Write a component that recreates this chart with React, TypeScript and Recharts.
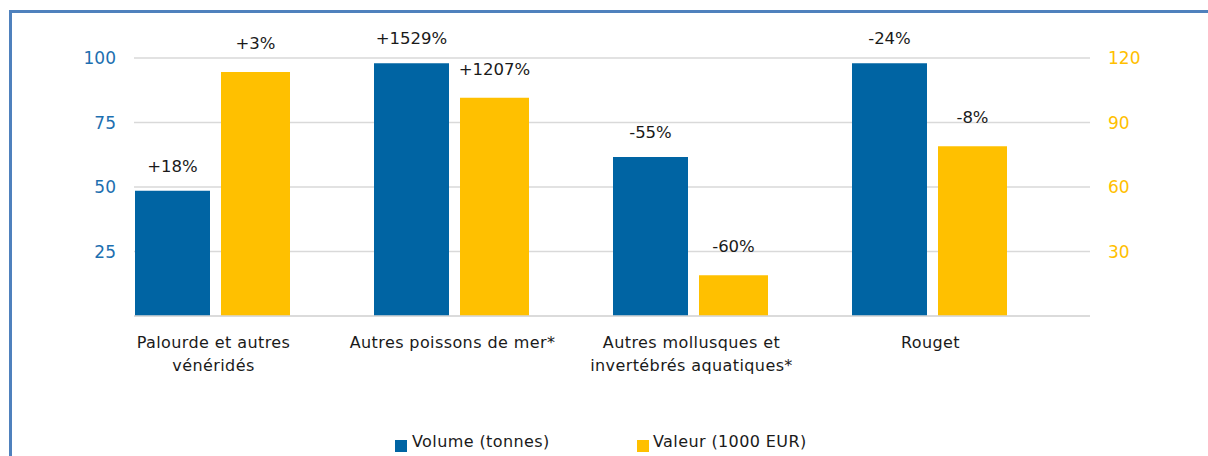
import { BarChart, Bar, XAxis, YAxis, CartesianGrid, LabelList } from "recharts"

const categories = [
  "Palourde et autres\nvénéridés",
  "Autres poissons de mer*",
  "Autres mollusques et\ninvertébrés aquatiques*",
  "Rouget",
]
const volume = [48.5, 98, 61.6, 98]
const valeur = [113.5, 101.5, 19, 79]
const volumeChange = ["+18%", "+1529%", "-55%", "-24%"]
const valeurChange = ["+3%", "+1207%", "-60%", "-8%"]
const leftTicks = [25, 50, 75, 100]
const rightTicks = [30, 60, 90, 120]

const data = categories.map((name, i) => ({
  name,
  volume: volume[i],
  valeur: valeur[i],
  volumeChange: volumeChange[i],
  valeurChange: valeurChange[i],
  spacer: 0,
}))

const BLUE = "#0064a3"
const YELLOW = "#ffc000"
const FONT = "'DejaVu Sans', sans-serif"

function CategoryTick(props: any) {
  const { x, y, payload } = props
  const lines = String(payload.value).split("\n")
  return (
    <text x={x - 40} y={y + 24} textAnchor="middle" fontFamily={FONT} fontSize={16} letterSpacing={0.4} fill="#1a1a1a">
      {lines.map((l, i) => (
        <tspan key={i} x={x - 40} dy={i === 0 ? 0 : 23}>
          {l}
        </tspan>
      ))}
    </text>
  )
}

export default function App() {
  return (
    <div style={{ position: "absolute", left: 0, top: 0, width: 1208, height: 456, background: "#fff", overflow: "hidden" }}>
      <div
        style={{
          position: "absolute",
          left: 9,
          top: 10,
          right: -10,
          bottom: -10,
          borderLeft: "3px solid #4f81bd",
          borderTop: "3px solid #4f81bd",
        }}
      />
      <div style={{ position: "absolute", left: 0, top: 0 }}>
        <BarChart width={1208} height={456} data={data} margin={{ top: 58, right: 68, bottom: 80, left: 84 }} barGap={11}>
          <CartesianGrid yAxisId="left" vertical={false} stroke="#d9d9d9" strokeWidth={1.5} />
          <XAxis
            dataKey="name"
            height={60}
            axisLine={{ stroke: "#d9d9d9", strokeWidth: 1.5 }}
            tickLine={false}
            interval={0}
            tick={<CategoryTick />}
          />
          <YAxis
            yAxisId="left"
            width={50}
            domain={[0, 100]}
            ticks={leftTicks}
            axisLine={false}
            tickLine={false}
            tickSize={0}
            tickMargin={18}
            tick={{ fill: "#1d6fb0", fontSize: 17, fontFamily: FONT }}
          />
          <YAxis
            yAxisId="right"
            orientation="right"
            width={50}
            domain={[0, 120]}
            ticks={rightTicks}
            axisLine={false}
            tickLine={false}
            tickSize={0}
            tickMargin={18}
            tick={{ fill: YELLOW, fontSize: 17, fontFamily: FONT }}
          />
          <Bar yAxisId="left" dataKey="volume" fill={BLUE} barSize={75} isAnimationActive={false}>
            <LabelList dataKey="volumeChange" position="top" offset={19} fill="#1a1a1a" fontSize={16.5} fontFamily={FONT} />
          </Bar>
          <Bar yAxisId="right" dataKey="valeur" fill={YELLOW} barSize={69} isAnimationActive={false}>
            <LabelList dataKey="valeurChange" position="top" offset={23} fill="#1a1a1a" fontSize={16.5} fontFamily={FONT} />
          </Bar>
          <Bar yAxisId="left" dataKey="spacer" fill="transparent" barSize={72} isAnimationActive={false} />
        </BarChart>
      </div>
      <div style={{ position: "absolute", left: 395, top: 440, width: 12, height: 12, background: BLUE }} />
      <div style={{ position: "absolute", left: 412, top: 432, fontFamily: FONT, fontSize: 16, letterSpacing: 0.4, color: "#1a1a1a", whiteSpace: "nowrap" }}>
        Volume (tonnes)
      </div>
      <div style={{ position: "absolute", left: 637, top: 440, width: 12, height: 12, background: YELLOW }} />
      <div style={{ position: "absolute", left: 653, top: 432, fontFamily: FONT, fontSize: 16, letterSpacing: 0.4, color: "#1a1a1a", whiteSpace: "nowrap" }}>
        Valeur (1000 EUR)
      </div>
    </div>
  )
}
